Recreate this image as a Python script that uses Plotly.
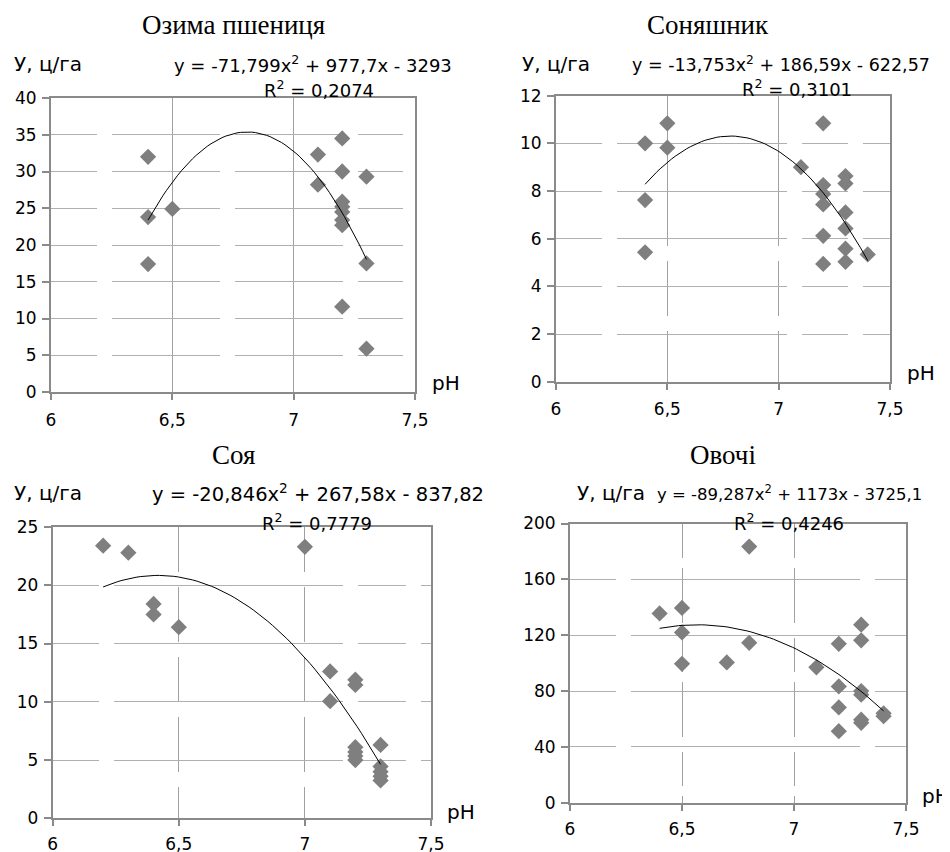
import numpy as np
import plotly.graph_objects as go

# The page body has an 8px margin, so the figure is drawn 8px in from the
# window's top-left corner; geometry below is given in window pixels.
OFF = 8
W, H = 950 - OFF, 852 - OFF

# ---------------- data ----------------
titles = ["Озима пшениця", "Соняшник", "Соя", "Овочі"]
y_label = "У, ц/га"
x_label = "pH"

wheat_ph = [6.4, 6.4, 6.4, 6.5, 7.1, 7.1, 7.2, 7.2, 7.2, 7.2, 7.2, 7.2, 7.2, 7.2, 7.3, 7.3, 7.3]
wheat_yield = [32.0, 23.8, 17.4, 24.9, 32.3, 28.2, 34.5, 30.0, 25.9, 25.2, 24.5, 23.4, 22.7, 11.6, 29.3, 17.5, 5.9]

sunf_ph = [6.4, 6.4, 6.4, 6.5, 6.5, 7.1, 7.2, 7.2, 7.2, 7.2, 7.2, 7.2, 7.3, 7.3, 7.3, 7.3, 7.3, 7.3, 7.4]
sunf_yield = [10.0, 7.62, 5.43, 10.84, 9.82, 9.0, 10.84, 8.25, 7.88, 7.44, 6.12, 4.94, 8.63, 8.32, 7.1, 6.43, 5.58, 5.03, 5.34]

soy_ph = [6.2, 6.3, 6.4, 6.4, 6.5, 7.0, 7.1, 7.1, 7.2, 7.2, 7.2, 7.2, 7.2, 7.2, 7.3, 7.3, 7.3, 7.3, 7.3]
soy_yield = [23.4, 22.8, 18.4, 17.5, 16.4, 23.3, 12.6, 10.05, 11.9, 11.45, 6.1, 5.7, 5.35, 5.0, 6.3, 4.45, 4.0, 3.6, 3.25]

veg_ph = [6.4, 6.5, 6.5, 6.5, 6.7, 6.8, 6.8, 7.1, 7.2, 7.2, 7.2, 7.2, 7.3, 7.3, 7.3, 7.3, 7.3, 7.3, 7.4, 7.4]
veg_yield = [135.6, 139.5, 122.0, 99.5, 100.5, 114.5, 183.5, 97.0, 113.8, 83.3, 68.2, 51.2, 127.5, 116.3, 80.0, 77.4, 59.5, 57.2, 64.0, 62.0]

# trendline coefficients as printed on the chart (a, b, c)
wheat_coef = [-71.799, 977.7, -3293]
sunf_coef = [-13.753, 186.59, -622.57]
soy_coef = [-20.846, 267.58, -837.82]
veg_coef = [-89.287, 1173, -3725.1]
eq_texts = [
    "y = -71,799x<sup>2</sup> + 977,7x - 3293",
    "y = -13,753x<sup>2</sup> + 186,59x - 622,57",
    "y = -20,846x<sup>2</sup> + 267,58x - 837,82",
    "y = -89,287x<sup>2</sup> + 1173x - 3725,1",
]
r2_texts = ["R<sup>2</sup> = 0,2074", "R<sup>2</sup> = 0,3101", "R<sup>2</sup> = 0,7779", "R<sup>2</sup> = 0,4246"]

x_tickvals = [6, 6.5, 7, 7.5]
x_ticktext = ["6", "6,5", "7", "7,5"]
y_ticks = [
    [0, 5, 10, 15, 20, 25, 30, 35, 40],
    [0, 2, 4, 6, 8, 10, 12],
    [0, 5, 10, 15, 20, 25],
    [0, 40, 80, 120, 160, 200],
]

# ---------------- layout geometry (window pixels) ----------------
panels = [
    dict(x0=51, x1=415, y0=98, y1=392, title=(233, 25), ylab=(12, 64), eq=(172, 64), eqsize=18, r2=(262, 89),
         ph=(430, 383), xstand=6, hdash="46px,15px,108px,15px,108px,15px,45px,30px", vdash="solid"),
    dict(x0=556, x1=890, y0=95.7, y1=381.7, title=(708, 25), ylab=(520, 64), eq=(630, 64), eqsize=17.5, r2=(740, 88),
         ph=(905, 373), xstand=5, hdash="46px,15px,170px,15px,46px,15px,40px", vdash="150px,15px,55px,15px"),
    dict(x0=52.7, x1=431, y0=527, y1=818.3, title=(233, 455), ylab=(12, 493), eq=(150, 493), eqsize=19.5, r2=(260, 522),
         ph=(445, 812), xstand=3, hdash="46px,15px,229px,15px,48px,15px,20px", vdash="45px,15px,55px,15px"),
    dict(x0=570, x1=906, y0=523.5, y1=802.7, title=(723, 455), ylab=(575, 493), eq=(655, 493), eqsize=16.5, r2=(732, 522),
         ph=(920, 796), xstand=4, hdash="46px,15px,229px,15px,48px,15px,20px", vdash="34px,10px,55px,15px"),
]


def fx(px):
    return (px - OFF) / W


def fy(py):
    return 1 - (py - OFF) / H


datasets = [
    (wheat_ph, wheat_yield, wheat_coef),
    (sunf_ph, sunf_yield, sunf_coef),
    (soy_ph, soy_yield, soy_coef),
    (veg_ph, veg_yield, veg_coef),
]

fig = go.Figure()
annotations = []
layout_axes = {}

tick_font = dict(family="DejaVu Sans", size=17, color="#000000")
title_font = dict(family="Liberation Serif", size=27, color="#000000")

for i, (p, (xs, ys, coef)) in enumerate(zip(panels, datasets)):
    n = i + 1
    xa = "x" if n == 1 else f"x{n}"
    ya = "y" if n == 1 else f"y{n}"
    xkey = "xaxis" if n == 1 else f"xaxis{n}"
    ykey = "yaxis" if n == 1 else f"yaxis{n}"

    fig.add_trace(go.Scatter(
        x=xs, y=ys, mode="markers", xaxis=xa, yaxis=ya, showlegend=False,
        marker=dict(symbol="diamond", size=12.5, color="#7f7f7f", line=dict(width=0)),
    ))
    xfit = np.linspace(min(xs), max(xs), 60)
    yfit = np.polyval(coef, xfit)
    fig.add_trace(go.Scatter(
        x=xfit, y=yfit, mode="lines", xaxis=xa, yaxis=ya, showlegend=False,
        line=dict(color="#000000", width=1),
    ))

    yt = y_ticks[i]
    layout_axes[xkey] = dict(
        domain=[fx(p["x0"]), fx(p["x1"])], anchor=ya, range=[6, 7.5], automargin=False,
        tickvals=x_tickvals, ticktext=x_ticktext, tickfont=tick_font,
        showgrid=True, gridcolor="#a0a0a0", gridwidth=1.3, griddash=p["vdash"],
        showline=True, linecolor="#8a8a8a", linewidth=2, mirror=True,
        ticks="outside", ticklen=6, tickcolor="#8a8a8a", tickwidth=1.5,
        ticklabelstandoff=p["xstand"], zeroline=False, fixedrange=True,
    )
    layout_axes[ykey] = dict(
        domain=[fy(p["y1"]), fy(p["y0"])], anchor=xa, range=[yt[0], yt[-1]], automargin=False,
        tickvals=yt, ticktext=[str(v) for v in yt], tickfont=tick_font,
        showgrid=True, gridcolor="#b0b0b0", gridwidth=1.3, griddash=p["hdash"],
        showline=True, linecolor="#8a8a8a", linewidth=2, mirror=True,
        ticks="outside", ticklen=7, tickcolor="#8a8a8a", tickwidth=1.5,
        ticklabelstandoff=2, zeroline=False, fixedrange=True,
    )

    annotations += [
        dict(text=titles[i], x=fx(p["title"][0]), y=fy(p["title"][1]), xanchor="center", yanchor="middle",
             font=title_font),
        dict(text=y_label, x=fx(p["ylab"][0]), y=fy(p["ylab"][1]), xanchor="left", yanchor="middle",
             font=dict(family="DejaVu Sans", size=20, color="#000000")),
        dict(text=eq_texts[i], x=fx(p["eq"][0]), y=fy(p["eq"][1]), xanchor="left", yanchor="middle",
             font=dict(family="DejaVu Sans", size=p["eqsize"], color="#000000")),
        dict(text=r2_texts[i], x=fx(p["r2"][0]), y=fy(p["r2"][1]), xanchor="left", yanchor="middle",
             font=dict(family="DejaVu Sans", size=18, color="#000000")),
        dict(text=x_label, x=fx(p["ph"][0]), y=fy(p["ph"][1]), xanchor="left", yanchor="middle",
             font=dict(family="DejaVu Sans", size=20, color="#000000")),
    ]

for a in annotations:
    a.update(xref="paper", yref="paper", showarrow=False)

fig.update_layout(
    width=W, height=H, margin=dict(l=0, r=0, t=0, b=0, autoexpand=False),
    paper_bgcolor="#ffffff", plot_bgcolor="#ffffff",
    annotations=annotations, **layout_axes,
)

fig.write_html("out.html", config={"displayModeBar": False})
